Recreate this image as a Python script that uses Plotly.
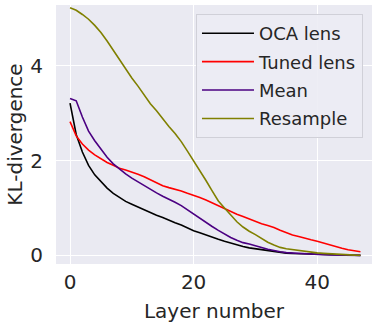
import plotly.graph_objects as go

layers = list(range(48))

oca_lens = [3.21, 2.55, 2.18, 1.90, 1.70, 1.55, 1.42, 1.31, 1.22, 1.14, 1.08, 1.02, 0.96, 0.91,
            0.85, 0.80, 0.74, 0.69, 0.64, 0.58, 0.52, 0.48, 0.43, 0.38, 0.34, 0.30, 0.26, 0.22,
            0.19, 0.16, 0.14, 0.12, 0.10, 0.08, 0.065, 0.05, 0.04, 0.035, 0.03, 0.025, 0.02,
            0.015, 0.01, 0.008, 0.006, 0.004, 0.003, 0.002]

tuned_lens = [2.82, 2.52, 2.35, 2.22, 2.12, 2.04, 1.96, 1.90, 1.84, 1.80, 1.76, 1.71, 1.66, 1.60,
              1.53, 1.47, 1.43, 1.40, 1.36, 1.31, 1.27, 1.22, 1.17, 1.11, 1.05, 0.99, 0.92, 0.87,
              0.82, 0.77, 0.71, 0.67, 0.63, 0.59, 0.53, 0.48, 0.43, 0.40, 0.36, 0.33, 0.30,
              0.26, 0.22, 0.18, 0.15, 0.12, 0.10, 0.08]

mean = [3.31, 3.26, 2.92, 2.62, 2.42, 2.24, 2.07, 1.93, 1.82, 1.72, 1.63, 1.55, 1.47, 1.39,
        1.32, 1.25, 1.19, 1.12, 1.05, 0.96, 0.87, 0.79, 0.70, 0.61, 0.53, 0.45, 0.38, 0.32,
        0.27, 0.24, 0.21, 0.17, 0.13, 0.10, 0.08, 0.06, 0.05, 0.04, 0.03, 0.025, 0.02,
        0.015, 0.01, 0.008, 0.006, 0.004, 0.003, 0.002]

resample = [5.22, 5.17, 5.08, 4.98, 4.85, 4.70, 4.52, 4.32, 4.12, 3.93, 3.74, 3.57, 3.38, 3.20,
            3.05, 2.88, 2.72, 2.57, 2.40, 2.20, 2.00, 1.80, 1.58, 1.36, 1.15, 1.00, 0.85, 0.71,
            0.60, 0.51, 0.44, 0.36, 0.28, 0.22, 0.17, 0.14, 0.12, 0.10, 0.08, 0.065, 0.055,
            0.045, 0.035, 0.025, 0.02, 0.012, 0.008, 0.005]

series = [
    ("OCA lens", oca_lens, "black"),
    ("Tuned lens", tuned_lens, "#ff0000"),
    ("Mean", mean, "#4b0082"),
    ("Resample", resample, "#808000"),
]

x_ticks = [0, 20, 40]
y_ticks = [0, 2, 4]

fig = go.Figure()
for name, vals, color in series:
    fig.add_trace(go.Scatter(x=layers, y=vals, mode="lines", name=name,
                             legendgroup=name,
                             line=dict(color=color, width=1.6)))

txt = "#262626"
fig.update_layout(
    width=372, height=323,
    margin=dict(l=56, r=0, t=5, b=59),
    paper_bgcolor="white",
    plot_bgcolor="#eaeaf2",
    font=dict(family="DejaVu Sans", size=20, color=txt),
    showlegend=True,
    legend=dict(x=0.443, y=0.965, xanchor="left", yanchor="top",
                bgcolor="rgba(236,236,244,0.9)", bordercolor="#d0d0d8", borderwidth=1,
                font=dict(size=18, color=txt), tracegroupgap=2,
                itemwidth=52),
)
fig.update_xaxes(range=[-2.27, 48.87], tickvals=x_ticks, showgrid=True, gridcolor="white",
                 gridwidth=1.2, zeroline=False, showline=False,
                 ticks="outside", ticklen=0, tickcolor="rgba(0,0,0,0)",
                 tickfont=dict(size=20),
                 title=dict(text="Layer number", font=dict(size=20), standoff=12))
fig.update_yaxes(range=[-0.18, 5.28], tickvals=y_ticks, showgrid=True, gridcolor="white",
                 gridwidth=1.2, zeroline=False, showline=False,
                 ticks="outside", ticklen=8, tickcolor="rgba(0,0,0,0)",
                 tickfont=dict(size=20),
                 title=dict(text="KL-divergence", font=dict(size=20), standoff=2))

fig.write_html("out.html")
